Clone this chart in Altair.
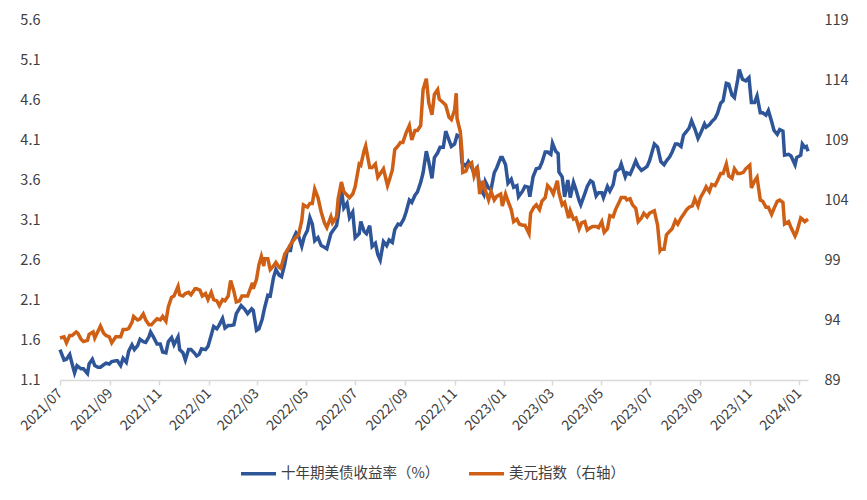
import altair as alt
import pandas as pd

SERIES_YIELD = "十年期美债收益率（%）"
SERIES_DXY = "美元指数（右轴）"

yield_dates = [
    "2021-07-01", "2021-07-06", "2021-07-09", "2021-07-13", "2021-07-16", "2021-07-19", "2021-07-22", "2021-07-27",
    "2021-07-30", "2021-08-04", "2021-08-06", "2021-08-10", "2021-08-13", "2021-08-17", "2021-08-20", "2021-08-24",
    "2021-08-27", "2021-08-31", "2021-09-03", "2021-09-08", "2021-09-10", "2021-09-14", "2021-09-17", "2021-09-21",
    "2021-09-24", "2021-09-28", "2021-10-01", "2021-10-05", "2021-10-08", "2021-10-12", "2021-10-15", "2021-10-19",
    "2021-10-21", "2021-10-25", "2021-10-29", "2021-11-02", "2021-11-05", "2021-11-09", "2021-11-12", "2021-11-16",
    "2021-11-19", "2021-11-24", "2021-11-26", "2021-11-30", "2021-12-03", "2021-12-07", "2021-12-10", "2021-12-14",
    "2021-12-17", "2021-12-20", "2021-12-23", "2021-12-28", "2021-12-31",
    "2022-01-04", "2022-01-07", "2022-01-11", "2022-01-14", "2022-01-18", "2022-01-21", "2022-01-25", "2022-01-28",
    "2022-02-01", "2022-02-04", "2022-02-10", "2022-02-14", "2022-02-18", "2022-02-23", "2022-02-25", "2022-03-01",
    "2022-03-04", "2022-03-08", "2022-03-11", "2022-03-15", "2022-03-18", "2022-03-22", "2022-03-25", "2022-03-29",
    "2022-04-01", "2022-04-05", "2022-04-08", "2022-04-12", "2022-04-14", "2022-04-19", "2022-04-22", "2022-04-26",
    "2022-04-29", "2022-05-03", "2022-05-06", "2022-05-09", "2022-05-12", "2022-05-16", "2022-05-20", "2022-05-24",
    "2022-05-27", "2022-06-01", "2022-06-03", "2022-06-08", "2022-06-10", "2022-06-14", "2022-06-17", "2022-06-21",
    "2022-06-24", "2022-06-28", "2022-07-01", "2022-07-06", "2022-07-08", "2022-07-12", "2022-07-15", "2022-07-19",
    "2022-07-22", "2022-07-26", "2022-07-29", "2022-08-01", "2022-08-05", "2022-08-09", "2022-08-12", "2022-08-16",
    "2022-08-19", "2022-08-23", "2022-08-26", "2022-08-30", "2022-09-02", "2022-09-06", "2022-09-09", "2022-09-13",
    "2022-09-16", "2022-09-20", "2022-09-23", "2022-09-27", "2022-09-30", "2022-10-04", "2022-10-07", "2022-10-11",
    "2022-10-14", "2022-10-18", "2022-10-21", "2022-10-25", "2022-10-28", "2022-11-01", "2022-11-04", "2022-11-08",
    "2022-11-10", "2022-11-15", "2022-11-18", "2022-11-22", "2022-11-25", "2022-11-29", "2022-12-02", "2022-12-07",
    "2022-12-09", "2022-12-13", "2022-12-16", "2022-12-20", "2022-12-23", "2022-12-28", "2022-12-30",
    "2023-01-03", "2023-01-06", "2023-01-10", "2023-01-13", "2023-01-17", "2023-01-19", "2023-01-24", "2023-01-27",
    "2023-01-31", "2023-02-02", "2023-02-06", "2023-02-10", "2023-02-14", "2023-02-17", "2023-02-21", "2023-02-24",
    "2023-02-28", "2023-03-02", "2023-03-06", "2023-03-09", "2023-03-10", "2023-03-14", "2023-03-17", "2023-03-21",
    "2023-03-24", "2023-03-28", "2023-03-31", "2023-04-04", "2023-04-06", "2023-04-11", "2023-04-14", "2023-04-18",
    "2023-04-21", "2023-04-25", "2023-04-28", "2023-05-02", "2023-05-04", "2023-05-09", "2023-05-12", "2023-05-16",
    "2023-05-19", "2023-05-24", "2023-05-26", "2023-05-31", "2023-06-02", "2023-06-06", "2023-06-09", "2023-06-13",
    "2023-06-16", "2023-06-20", "2023-06-23", "2023-06-27", "2023-06-30", "2023-07-06", "2023-07-10", "2023-07-14",
    "2023-07-18", "2023-07-21", "2023-07-25", "2023-07-28", "2023-08-01", "2023-08-04", "2023-08-08", "2023-08-11",
    "2023-08-15", "2023-08-18", "2023-08-21", "2023-08-25", "2023-08-29", "2023-09-01", "2023-09-06", "2023-09-08",
    "2023-09-12", "2023-09-15", "2023-09-19", "2023-09-22", "2023-09-26", "2023-09-29", "2023-10-03", "2023-10-06",
    "2023-10-10", "2023-10-13", "2023-10-17", "2023-10-19", "2023-10-23", "2023-10-27", "2023-10-31", "2023-11-02",
    "2023-11-03", "2023-11-07", "2023-11-10", "2023-11-14", "2023-11-17", "2023-11-21", "2023-11-24", "2023-11-28",
    "2023-12-01", "2023-12-05", "2023-12-08", "2023-12-12", "2023-12-14", "2023-12-19", "2023-12-22", "2023-12-27",
    "2023-12-29", "2024-01-03", "2024-01-05", "2024-01-08", "2024-01-10", "2024-01-12",
]
yield_vals = [
    1.48, 1.35, 1.36, 1.42, 1.30, 1.19, 1.28, 1.24,
    1.24, 1.18, 1.30, 1.36, 1.28, 1.26, 1.26, 1.29,
    1.31, 1.30, 1.33, 1.34, 1.34, 1.28, 1.37, 1.32,
    1.46, 1.54, 1.48, 1.53, 1.61, 1.58, 1.57, 1.64,
    1.70, 1.63, 1.55, 1.55, 1.45, 1.44, 1.58, 1.63,
    1.54, 1.64, 1.48, 1.44, 1.35, 1.48, 1.48, 1.44,
    1.40, 1.42, 1.49, 1.48, 1.52,
    1.66, 1.77, 1.74, 1.79, 1.87, 1.75, 1.78, 1.78,
    1.79, 1.93, 2.03, 1.99, 1.93, 1.99, 1.97, 1.72,
    1.74, 1.86, 2.00, 2.16, 2.15, 2.38, 2.48, 2.41,
    2.39, 2.55, 2.72, 2.72, 2.83, 2.94, 2.90, 2.77,
    2.89, 2.97, 3.13, 3.05, 2.84, 2.88, 2.78, 2.76,
    2.74, 2.93, 2.96, 3.03, 3.15, 3.48, 3.25, 3.31,
    3.13, 3.20, 2.88, 2.93, 3.08, 2.96, 2.93, 3.03,
    2.77, 2.81, 2.67, 2.60, 2.83, 2.78, 2.85, 2.82,
    2.98, 3.05, 3.04, 3.11, 3.20, 3.35, 3.32, 3.41,
    3.45, 3.57, 3.69, 3.96, 3.83, 3.62, 3.88, 3.94,
    4.01, 4.01, 4.21, 4.10, 4.02, 4.05, 4.16, 4.14,
    3.82, 3.77, 3.83, 3.76, 3.69, 3.75, 3.51, 3.42,
    3.58, 3.50, 3.48, 3.69, 3.75, 3.88, 3.88,
    3.79, 3.56, 3.61, 3.51, 3.53, 3.39, 3.46, 3.52,
    3.51, 3.39, 3.64, 3.74, 3.75, 3.82, 3.95, 3.95,
    3.92, 4.06, 3.96, 3.93, 3.70, 3.64, 3.39, 3.60,
    3.38, 3.57, 3.48, 3.34, 3.29, 3.43, 3.52, 3.59,
    3.57, 3.40, 3.44, 3.44, 3.38, 3.52, 3.46, 3.54,
    3.70, 3.74, 3.80, 3.64, 3.69, 3.67, 3.74, 3.84,
    3.77, 3.72, 3.74, 3.77, 3.84, 4.05, 4.01, 3.83,
    3.79, 3.84, 3.89, 3.95, 4.05, 4.05, 4.02, 4.16,
    4.21, 4.25, 4.34, 4.24, 4.12, 4.18, 4.30, 4.26,
    4.29, 4.33, 4.37, 4.43, 4.56, 4.59, 4.81, 4.80,
    4.66, 4.63, 4.85, 4.98, 4.86, 4.84, 4.88, 4.67,
    4.57, 4.57, 4.65, 4.44, 4.44, 4.41, 4.47, 4.33,
    4.22, 4.17, 4.23, 4.21, 3.91, 3.92, 3.90, 3.79,
    3.88, 3.91, 4.05, 4.01, 4.02, 3.96,
]

dxy_dates = [
    "2021-07-01", "2021-07-06", "2021-07-09", "2021-07-13", "2021-07-16", "2021-07-21", "2021-07-23", "2021-07-27",
    "2021-07-30", "2021-08-04", "2021-08-06", "2021-08-11", "2021-08-13", "2021-08-18", "2021-08-20", "2021-08-24",
    "2021-08-27", "2021-08-31", "2021-09-03", "2021-09-08", "2021-09-10", "2021-09-14", "2021-09-17", "2021-09-21",
    "2021-09-24", "2021-09-28", "2021-09-30", "2021-10-05", "2021-10-08", "2021-10-12", "2021-10-15", "2021-10-19",
    "2021-10-22", "2021-10-26", "2021-10-29", "2021-11-02", "2021-11-05", "2021-11-09", "2021-11-12", "2021-11-16",
    "2021-11-19", "2021-11-24", "2021-11-26", "2021-11-30", "2021-12-03", "2021-12-07", "2021-12-10", "2021-12-15",
    "2021-12-17", "2021-12-21", "2021-12-24", "2021-12-28", "2021-12-31",
    "2022-01-04", "2022-01-07", "2022-01-11", "2022-01-14", "2022-01-18", "2022-01-21", "2022-01-25", "2022-01-28",
    "2022-02-01", "2022-02-04", "2022-02-08", "2022-02-11", "2022-02-15", "2022-02-18", "2022-02-24", "2022-02-25",
    "2022-03-01", "2022-03-04", "2022-03-07", "2022-03-10", "2022-03-11", "2022-03-15", "2022-03-18", "2022-03-22",
    "2022-03-25", "2022-03-29", "2022-03-31", "2022-04-05", "2022-04-08", "2022-04-12", "2022-04-14", "2022-04-19",
    "2022-04-22", "2022-04-26", "2022-04-28", "2022-05-03", "2022-05-06", "2022-05-09", "2022-05-12", "2022-05-16",
    "2022-05-20", "2022-05-24", "2022-05-27", "2022-06-01", "2022-06-03", "2022-06-08", "2022-06-10", "2022-06-14",
    "2022-06-17", "2022-06-21", "2022-06-24", "2022-06-28", "2022-07-01", "2022-07-06", "2022-07-08", "2022-07-12",
    "2022-07-14", "2022-07-19", "2022-07-22", "2022-07-26", "2022-07-29", "2022-08-02", "2022-08-05", "2022-08-10",
    "2022-08-12", "2022-08-16", "2022-08-19", "2022-08-23", "2022-08-26", "2022-08-29", "2022-09-02", "2022-09-06",
    "2022-09-09", "2022-09-13", "2022-09-16", "2022-09-20", "2022-09-23", "2022-09-27", "2022-09-30", "2022-10-04",
    "2022-10-07", "2022-10-11", "2022-10-13", "2022-10-18", "2022-10-21", "2022-10-25", "2022-10-28", "2022-11-01",
    "2022-11-03", "2022-11-04", "2022-11-08", "2022-11-10", "2022-11-11", "2022-11-15", "2022-11-18", "2022-11-22",
    "2022-11-25", "2022-11-29", "2022-12-02", "2022-12-06", "2022-12-09", "2022-12-13", "2022-12-16", "2022-12-20",
    "2022-12-23", "2022-12-28", "2022-12-30",
    "2023-01-03", "2023-01-06", "2023-01-10", "2023-01-13", "2023-01-17", "2023-01-20", "2023-01-24", "2023-01-27",
    "2023-02-01", "2023-02-03", "2023-02-07", "2023-02-10", "2023-02-14", "2023-02-17", "2023-02-21", "2023-02-24",
    "2023-02-28", "2023-03-03", "2023-03-08", "2023-03-10", "2023-03-14", "2023-03-17", "2023-03-22", "2023-03-24",
    "2023-03-28", "2023-03-31", "2023-04-04", "2023-04-07", "2023-04-11", "2023-04-14", "2023-04-18", "2023-04-21",
    "2023-04-25", "2023-04-28", "2023-05-02", "2023-05-05", "2023-05-09", "2023-05-12", "2023-05-16", "2023-05-19",
    "2023-05-24", "2023-05-26", "2023-05-31", "2023-06-02", "2023-06-06", "2023-06-09", "2023-06-13", "2023-06-16",
    "2023-06-20", "2023-06-23", "2023-06-27", "2023-06-30", "2023-07-06", "2023-07-10", "2023-07-13", "2023-07-14",
    "2023-07-18", "2023-07-21", "2023-07-25", "2023-07-28", "2023-08-01", "2023-08-04", "2023-08-08", "2023-08-11",
    "2023-08-15", "2023-08-18", "2023-08-22", "2023-08-25", "2023-08-29", "2023-09-01", "2023-09-06", "2023-09-08",
    "2023-09-12", "2023-09-15", "2023-09-19", "2023-09-22", "2023-09-26", "2023-09-29", "2023-10-03", "2023-10-06",
    "2023-10-10", "2023-10-13", "2023-10-17", "2023-10-20", "2023-10-24", "2023-10-27", "2023-11-01", "2023-11-03",
    "2023-11-07", "2023-11-10", "2023-11-14", "2023-11-17", "2023-11-21", "2023-11-24", "2023-11-28", "2023-12-01",
    "2023-12-05", "2023-12-08", "2023-12-12", "2023-12-14", "2023-12-19", "2023-12-22", "2023-12-27", "2023-12-29",
    "2024-01-03", "2024-01-05", "2024-01-08", "2024-01-12",
]
dxy_vals = [
    92.5, 92.6, 92.1, 92.7, 92.7, 93.0, 92.9, 92.4,
    92.2, 92.3, 92.8, 93.0, 92.5, 93.2, 93.5, 92.9,
    92.7, 92.6, 92.1, 92.6, 92.6, 92.6, 93.2, 93.2,
    93.3, 93.8, 94.3, 94.0, 94.1, 94.5, 94.0, 93.6,
    93.6, 93.9, 94.1, 94.0, 94.3, 93.9, 95.1, 95.9,
    96.0, 96.8, 96.1, 96.0, 96.2, 96.3, 96.1, 96.6,
    96.6, 96.5, 96.0, 96.2, 95.7,
    96.3, 95.7, 95.6, 95.2, 95.7, 95.6, 96.0, 97.3,
    96.4, 95.5, 95.6, 96.0, 96.0, 96.0, 97.1, 96.6,
    97.4, 98.6, 99.3, 98.5, 99.1, 99.1, 98.2, 98.5,
    98.8, 98.4, 98.3, 99.5, 99.8, 100.3, 100.5, 100.9,
    101.1, 102.3, 103.6, 103.4, 103.7, 103.7, 104.9, 104.2,
    103.0, 102.1, 101.7, 102.6, 102.1, 102.6, 104.1, 105.5,
    104.7, 104.4, 104.2, 104.5, 105.1, 107.0, 106.9, 108.1,
    108.5, 106.7, 106.7, 107.0, 105.9, 106.3, 106.6, 105.2,
    105.6, 106.5, 108.2, 108.5, 108.8, 108.8, 109.6, 110.2,
    109.0, 109.8, 109.8, 110.2, 113.2, 114.1, 112.1, 111.1,
    112.8, 113.2, 112.4, 112.1, 111.9, 110.9, 110.7, 111.5,
    112.9, 110.8, 109.7, 108.1, 106.3, 106.4, 106.9, 107.1,
    106.0, 106.8, 104.5, 105.6, 104.8, 104.0, 104.7, 104.0,
    104.3, 104.5, 103.5,
    104.5, 103.9, 103.2, 102.2, 102.4, 102.0, 101.9, 101.9,
    101.2, 102.9, 103.4, 103.6, 103.2, 103.9, 104.2, 105.2,
    104.9, 104.5, 105.6, 104.6, 103.6, 103.8, 102.5, 103.1,
    102.4, 102.5, 101.6, 102.1, 102.2, 101.5, 101.7, 101.8,
    101.8, 101.7, 102.2, 101.3, 101.6, 102.7, 102.6, 103.2,
    103.9, 104.2, 104.2, 104.0, 104.1, 103.6, 103.3, 102.2,
    102.5, 102.9, 102.6, 102.9, 103.1, 101.9, 99.8, 99.9,
    99.9, 101.1, 101.4, 101.6, 102.3, 102.0, 102.5, 102.8,
    103.2, 103.4, 103.5, 104.1, 103.5, 104.2, 104.8, 105.1,
    104.7, 105.3, 105.2, 105.6, 106.2, 106.2, 107.0, 106.0,
    105.8, 106.6, 106.2, 106.2, 106.3, 106.6, 106.9, 105.0,
    105.6, 105.9, 104.0, 103.9, 103.4, 103.4, 102.8, 103.3,
    103.9, 104.0, 103.8, 102.0, 102.2, 101.7, 101.0, 101.3,
    102.5, 102.4, 102.2, 102.4,
]

left_ticks = [1.1, 1.6, 2.1, 2.6, 3.1, 3.6, 4.1, 4.6, 5.1, 5.6]
right_ticks = [89, 94, 99, 104, 109, 114, 119]
x_tick_months = [(2021, 7), (2021, 9), (2021, 11), (2022, 1), (2022, 3), (2022, 5), (2022, 7), (2022, 9),
                 (2022, 11), (2023, 1), (2023, 3), (2023, 5), (2023, 7), (2023, 9), (2023, 11), (2024, 1)]

BLUE = "#2E5597"
ORANGE = "#CF5F14"
FONT = "Noto Sans CJK SC"
TEXT = "#404040"

df_y = pd.DataFrame({"date": [d.replace("-", "/") for d in yield_dates], "value": yield_vals, "series": SERIES_YIELD})
df_d = pd.DataFrame({"date": [d.replace("-", "/") for d in dxy_dates], "value": dxy_vals, "series": SERIES_DXY})

x_enc = alt.X(
    "date:T",
    scale=alt.Scale(domain=[alt.DateTime(year=2021, month=7, date=1), alt.DateTime(year=2024, month=1, date=12)]),
    axis=alt.Axis(
        title=None,
        values=[alt.DateTime(year=y, month=m, date=1) for y, m in x_tick_months],
        format="%Y/%m",
        labelAngle=-45,
        labelAlign="right",
        labelBaseline="middle",
        labelPadding=6,
        tickSize=5,
        tickColor="#D9D9D9",
        domainColor="#D9D9D9",
        domainWidth=1.5,
        tickWidth=1.5,
        grid=False,
        labelFontSize=14,
        labelColor=TEXT,
        labelFont=FONT,
    ),
)

color_enc = alt.Color(
    "series:N",
    scale=alt.Scale(domain=[SERIES_YIELD, SERIES_DXY], range=[BLUE, ORANGE]),
    legend=alt.Legend(
        title=None,
        orient="none",
        direction="horizontal",
        columns=2,
        legendX=179,
        legendY=434,
        symbolType="stroke",
        symbolSize=1225,
        symbolStrokeWidth=3.5,
        labelFontSize=14.5,
        labelFont=FONT,
        labelColor=TEXT,
        labelOffset=3,
        columnPadding=22,
        padding=0,
    ),
)

yield_line = alt.Chart(df_y).mark_line(strokeWidth=3.5).encode(
    x=x_enc,
    y=alt.Y(
        "value:Q",
        scale=alt.Scale(domain=[1.1, 5.6], nice=False, zero=False),
        axis=alt.Axis(
            orient="left", title=None, values=left_ticks, format=".1f", domain=False, ticks=False,
            tickSize=0, grid=False, labelPadding=20, labelFontSize=14.5, labelColor=TEXT, labelFont=FONT,
        ),
    ),
    color=color_enc,
)

dxy_line = alt.Chart(df_d).mark_line(strokeWidth=3.5).encode(
    x=x_enc,
    y=alt.Y(
        "value:Q",
        scale=alt.Scale(domain=[89, 119], nice=False, zero=False),
        axis=alt.Axis(
            orient="right", title=None, values=right_ticks, format="d", domain=False, ticks=False,
            tickSize=0, grid=False, labelPadding=16, labelFontSize=14.5, labelColor=TEXT, labelFont=FONT,
        ),
    ),
    color=color_enc,
)

chart = (
    alt.layer(yield_line, dxy_line)
    .resolve_scale(y="independent")
    .properties(
        width=748,
        height=360,
        background="white",
        autosize=alt.AutoSizeParams(type="none"),
        padding={"left": 52, "top": 12, "right": 50, "bottom": 110},
    )
    .configure_view(stroke=None)
)

chart.save("out.html", embed_options={"renderer": "svg", "actions": False})
